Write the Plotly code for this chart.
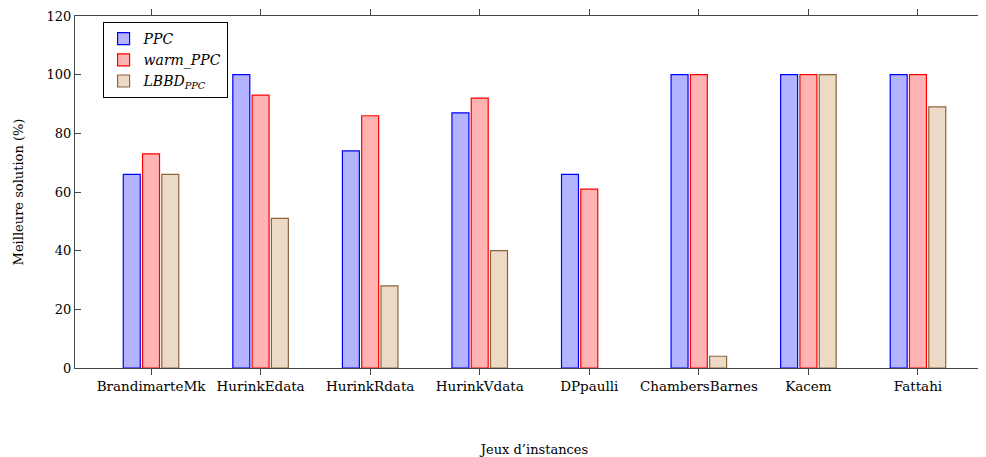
import plotly.graph_objects as go

categories = ["BrandimarteMk", "HurinkEdata", "HurinkRdata", "HurinkVdata",
              "DPpaulli", "ChambersBarnes", "Kacem", "Fattahi"]
ppc = [66, 100, 74, 87, 66, 100, 100, 100]
warm_ppc = [73, 93, 86, 92, 61, 100, 100, 100]
lbbd_ppc = [66, 51, 28, 40, None, 4, 100, 89]
y_ticks = [0, 20, 40, 60, 80, 100, 120]

font_family = "DejaVu Serif"

fig = go.Figure()
fig.add_trace(go.Bar(x=categories, y=ppc, name="<i>PPC</i>",
                     marker=dict(color="rgb(179,179,255)", line=dict(color="rgb(0,0,255)", width=1.2))))
fig.add_trace(go.Bar(x=categories, y=warm_ppc, name="<i>warm_PPC</i>",
                     marker=dict(color="rgb(255,179,179)", line=dict(color="rgb(255,0,0)", width=1.2))))
fig.add_trace(go.Bar(x=categories, y=lbbd_ppc, name="<i>LBBD</i><sub><i>PPC</i></sub>",
                     marker=dict(color="rgb(236,217,198)", line=dict(color="rgb(140,100,60)", width=1.2))))

# the page body has an 8px margin, so the figure starts at (8, 8) in the window
fig.update_layout(
    width=986, height=457,
    margin=dict(l=67, r=0, t=8, b=97),
    paper_bgcolor="white", plot_bgcolor="white",
    barmode="group", bargap=0.472, bargroupgap=0.12,
    font=dict(family=font_family, size=13, color="black"),
    showlegend=True,
    legend=dict(x=0.030, y=0.983, xanchor="left", yanchor="top",
                bgcolor="white", bordercolor="black", borderwidth=1,
                font=dict(family=font_family, size=14), tracegroupgap=0,
                itemwidth=30),
    xaxis=dict(range=[-0.694, 7.694], showline=True, linecolor="#444", linewidth=1,
               mirror="ticks", ticks="outside", ticklen=6, tickcolor="#444",
               showgrid=False, zeroline=False, tickfont=dict(size=13.5),
               title=dict(text="Jeux d’instances", standoff=51, font=dict(size=13))),
    yaxis=dict(range=[0, 120], tickvals=y_ticks, showline=True, linecolor="#444", linewidth=1,
               ticks="inside", ticklen=6, tickcolor="#444", showgrid=False, zeroline=False,
               tickfont=dict(size=13),
               title=dict(text="Meilleure solution (%)", standoff=20, font=dict(size=13))),
)

fig.write_html("out.html")
